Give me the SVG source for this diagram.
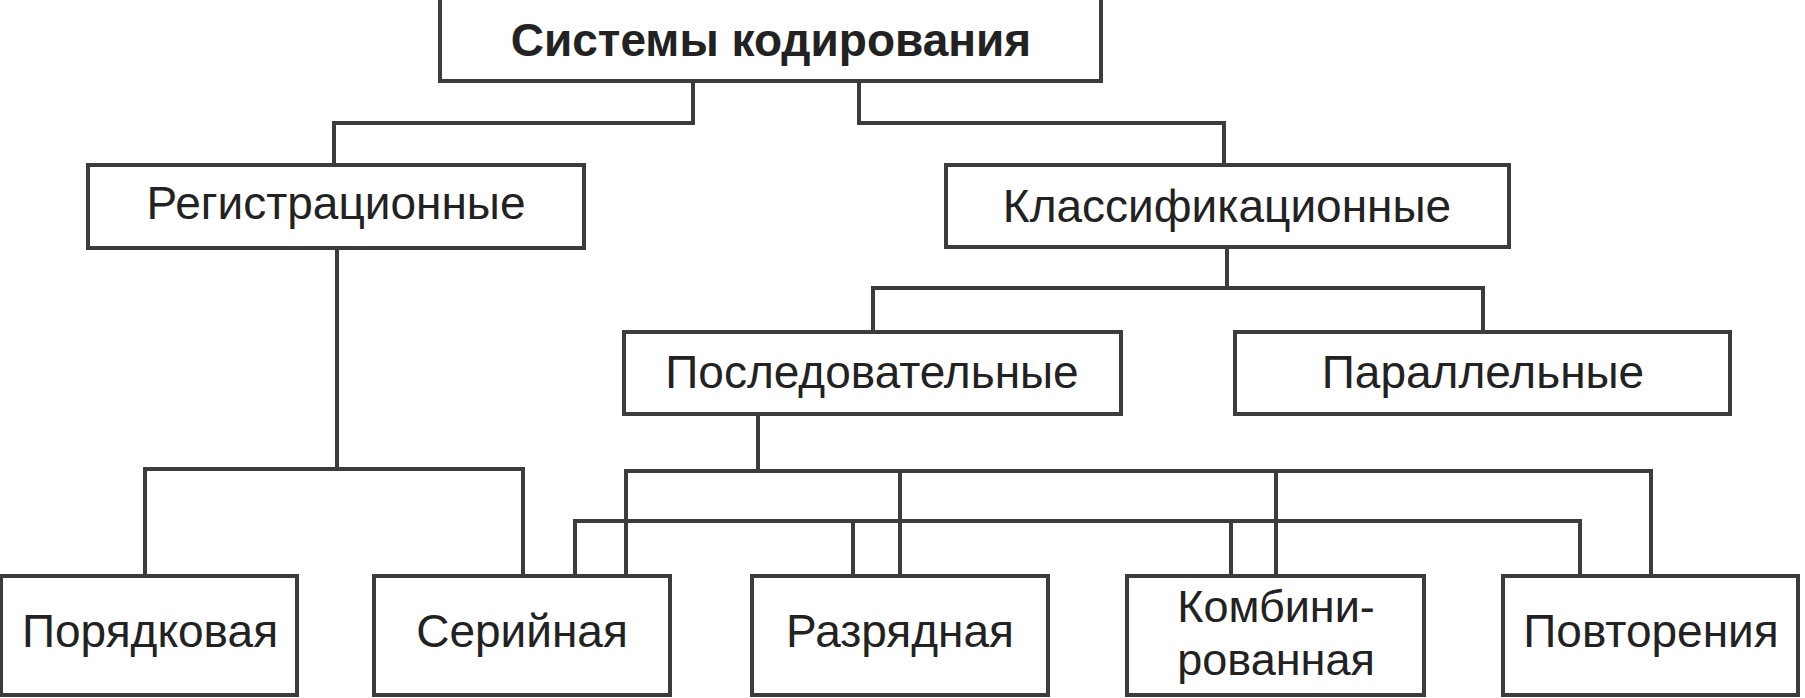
<svg xmlns="http://www.w3.org/2000/svg" width="1805" height="698" viewBox="0 0 1805 698">
<style>
.box{fill:#fff;stroke:#3c3c3c;stroke-width:4}
.t{font-family:"Liberation Sans",Arial,sans-serif;font-size:46px;fill:#222;text-anchor:middle}
.s{font-size:45px}
.b{font-weight:bold}
.c{fill:none;stroke:#3c3c3c;stroke-width:4;stroke-linecap:square;stroke-linejoin:miter}
</style>
<rect width="1805" height="698" fill="#fff"/>
<g id="connectors">
<path class="c" d="M693,81 V123 H334 V165"/>
<path class="c" d="M859,81 V123 H1224 V165"/>
<path class="c" d="M337,248 V469"/>
<path class="c" d="M145,576 V469 H523 V576"/>
<path class="c" d="M1227,247 V288"/>
<path class="c" d="M873,332 V288 H1483 V332"/>
<path class="c" d="M758,414 V471"/>
<path class="c" d="M626,576 V471 H1651 V576"/>
<path class="c" d="M900,471 V576"/>
<path class="c" d="M1276,471 V576"/>
<path class="c" d="M575,576 V521 H1580 V576"/>
<path class="c" d="M853,521 V576"/>
<path class="c" d="M1231,521 V576"/>
</g>
<g id="n-root">
<rect class="box" x="440" y="-6" width="661" height="87"/>
<text class="t b" x="771" y="56">Системы кодирования</text>
</g>
<g id="n-reg">
<rect class="box" x="88" y="165" width="496" height="83"/>
<text class="t" x="336" y="219">Регистрационные</text>
</g>
<g id="n-class">
<rect class="box" x="946" y="165" width="563" height="82"/>
<text class="t" x="1227" y="222">Классификационные</text>
</g>
<g id="n-seq">
<rect class="box" x="624" y="332" width="497" height="82"/>
<text class="t" x="872" y="388">Последовательные</text>
</g>
<g id="n-par">
<rect class="box" x="1235" y="332" width="495" height="82"/>
<text class="t" x="1483" y="388">Параллельные</text>
</g>
<g id="n-ord">
<rect class="box" x="1" y="576" width="296" height="119"/>
<text class="t" x="150" y="647">Порядковая</text>
</g>
<g id="n-ser">
<rect class="box" x="374" y="576" width="296" height="119"/>
<text class="t" x="522" y="647">Серийная</text>
</g>
<g id="n-raz">
<rect class="box" x="752" y="576" width="296" height="119"/>
<text class="t" x="900" y="647">Разрядная</text>
</g>
<g id="n-comb">
<rect class="box" x="1127" y="576" width="297" height="119"/>
<text class="t s" x="1276" y="622">Комбини-</text>
<text class="t s" x="1276" y="675">рованная</text>
</g>
<g id="n-rep">
<rect class="box" x="1503" y="576" width="295" height="119"/>
<text class="t" x="1651" y="647">Повторения</text>
</g>
</svg>
